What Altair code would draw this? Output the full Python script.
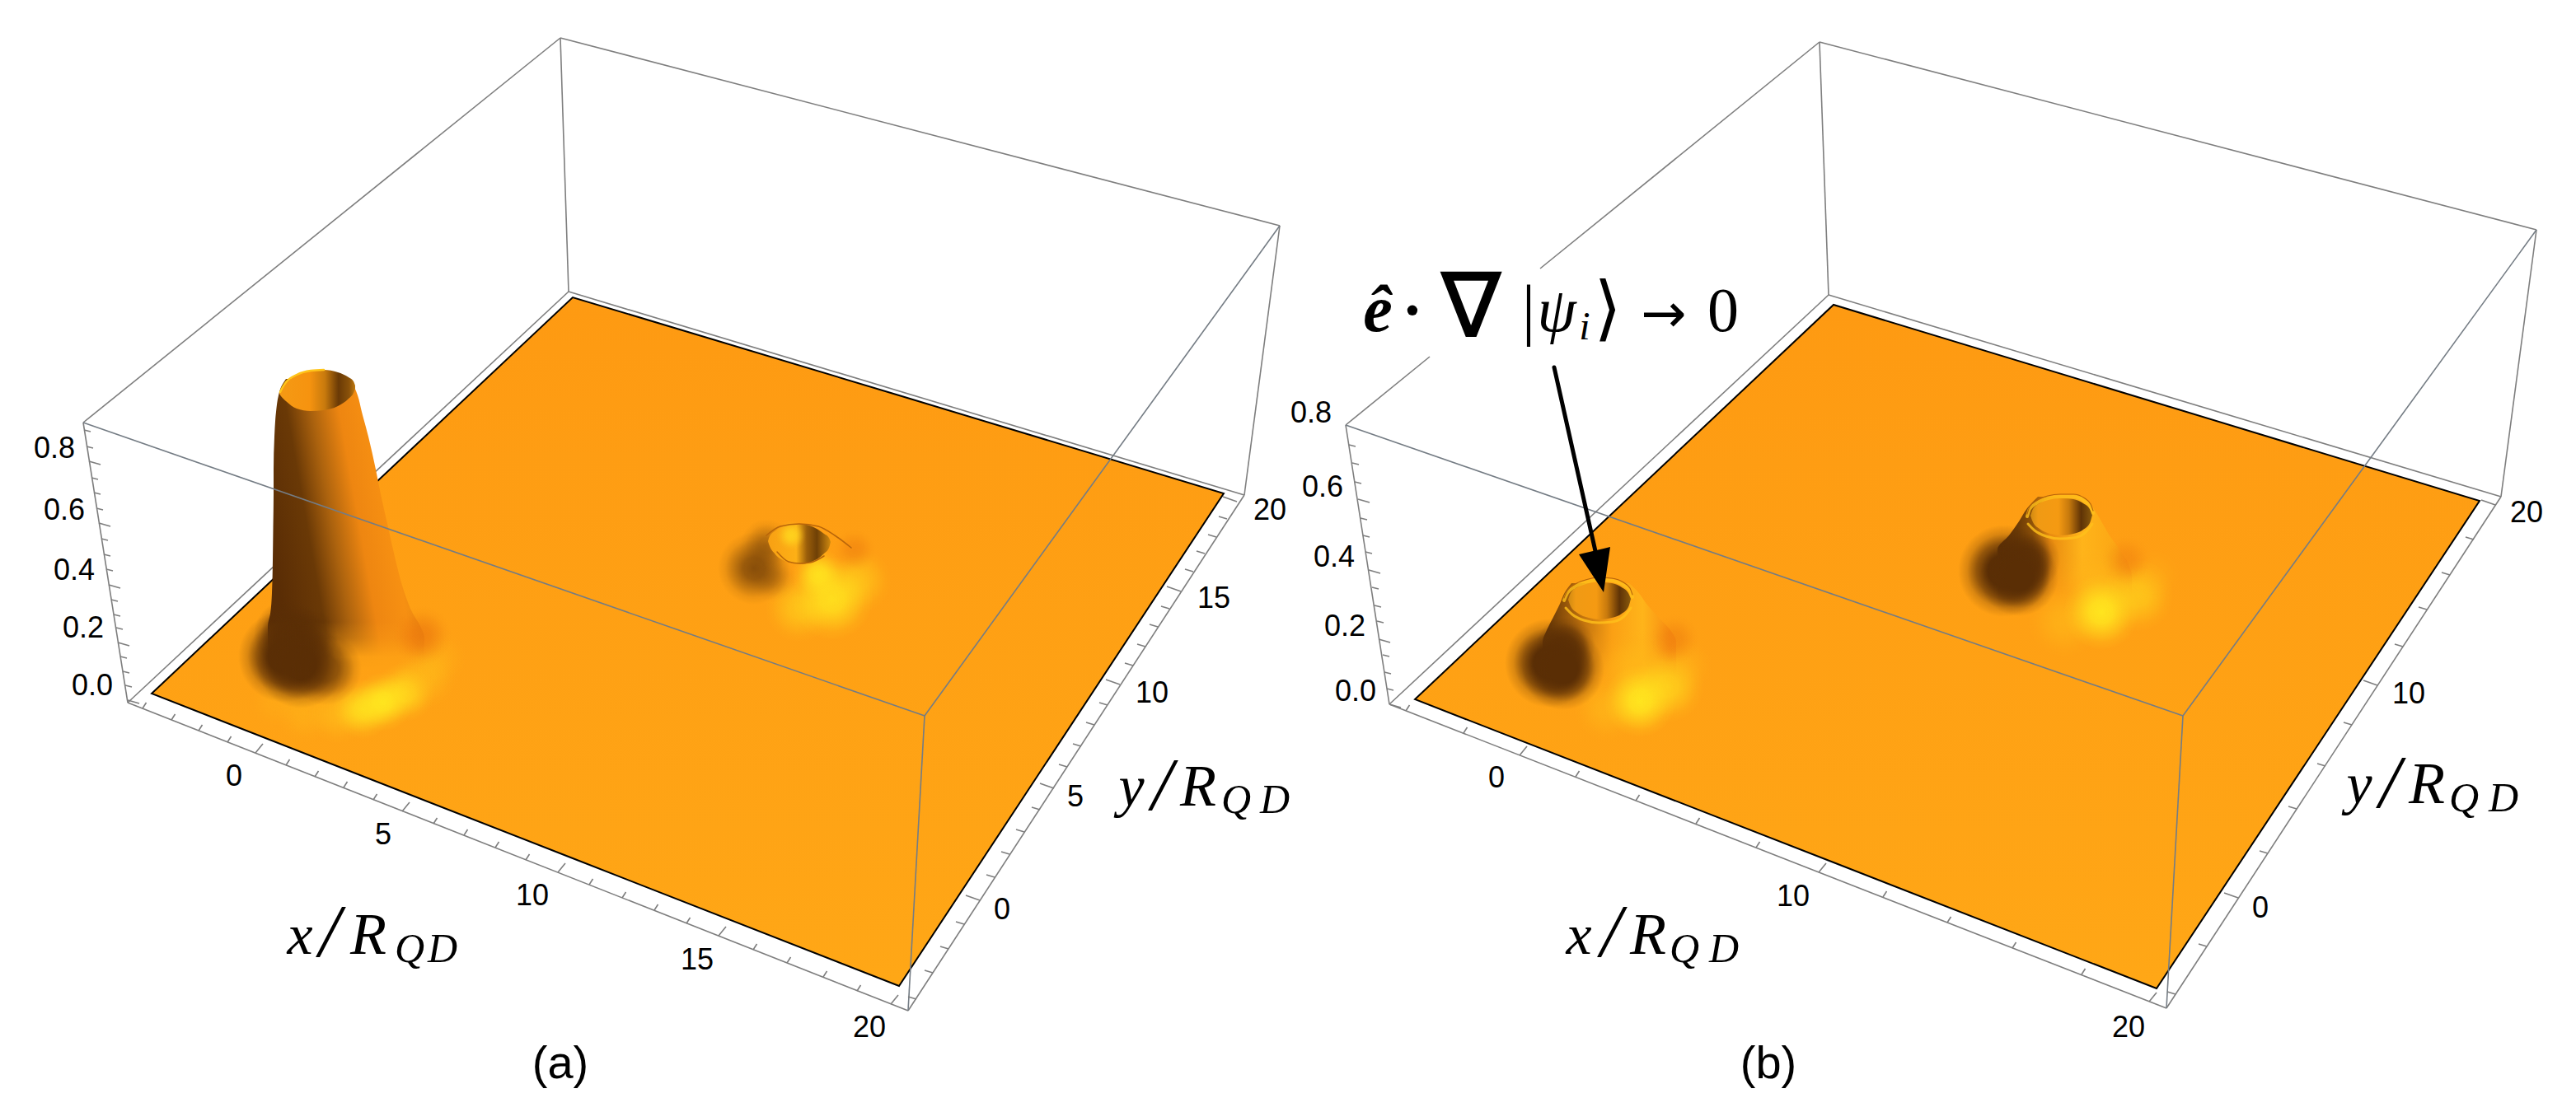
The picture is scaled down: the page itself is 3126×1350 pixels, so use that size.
import altair as alt
import pandas as pd

# panel corners: top-left, back, top-right, front (upper ring),
# then the same four on the floor of the box
box_a = dict(tl=(101, 513), bk=(680, 46), tr=(1553, 274), fr=(1122, 869),
             bl=(155, 853), bb=(690, 354), br=(1510, 601), fb=(1102, 1227))
box_b = dict(tl=(1633, 516), bk=(2208, 51), tr=(3078, 279), fr=(2649, 869),
             bl=(1686, 855), bb=(2219, 358), br=(3035, 603), fb=(2629, 1224))

# sheet outlines (x, upper edge, lower edge)
sheet_a_x = [184, 695, 1091, 1485]
sheet_a_top = [842, 361, 480, 599]
sheet_a_bot = [842, 1042, 1197, 599]
sheet_b_x = [1717, 2225, 2617, 3009]
sheet_b_top = [849, 370, 489, 608]
sheet_b_bot = [849, 1047, 1200, 608]

# tick feet along the box edges
a_xtick_x = [173, 208, 241, 276, 310, 347, 382, 417, 453, 488, 526, 563, 601, 638, 677,
             715, 755, 794, 833, 872, 914, 955, 999, 1040, 1081]
a_xtick_y = [860, 874, 887, 901, 914, 929, 943, 956, 971, 985, 1000, 1014, 1029, 1044, 1059,
             1074, 1090, 1105, 1121, 1136, 1153, 1169, 1186, 1203, 1219]
a_xtick_major = [0, 0, 0, 0, 1, 0, 0, 0, 0, 1, 0, 0, 0, 0, 1, 0, 0, 0, 0, 1, 0, 0, 0, 0, 1]
a_ytick_x = [1112, 1132, 1151, 1170, 1189, 1207, 1225, 1243, 1262, 1279, 1295, 1312, 1328,
             1344, 1359, 1375, 1390, 1405, 1419, 1433, 1448, 1462, 1476, 1489, 1501]
a_ytick_y = [1213, 1181, 1152, 1122, 1093, 1065, 1037, 1010, 983, 957, 931, 906, 880,
             856, 831, 808, 785, 761, 739, 718, 694, 672, 652, 630, 609]
a_ytick_major = a_xtick_major
a_ztick_x = [102, 105, 108, 111, 114, 117, 120, 123, 126, 129, 132, 135, 138, 141, 143, 146, 149, 152, 155]
a_ztick_y = [522, 542, 560, 580, 598, 617, 635, 654, 673, 691, 710, 728, 746, 762, 780, 797, 815, 832, 850]
a_ztick_major = [0, 0, 1, 0, 0, 0, 1, 0, 0, 0, 1, 0, 0, 0, 1, 0, 0, 0, 1]

b_xtick_x = [1706, 1776, 1844, 1912, 1985, 2058, 2131, 2207, 2285, 2363, 2442, 2526, 2608]
b_xtick_y = [863, 890, 917, 943, 972, 1000, 1029, 1059, 1089, 1120, 1151, 1183, 1216]
b_xtick_major = [0, 0, 1, 0, 0, 0, 0, 1, 0, 0, 0, 0, 1]
b_ytick_x = [2640, 2678, 2716, 2752, 2787, 2822, 2854, 2885, 2916, 2945, 2973, 3002, 3028]
b_ytick_y = [1207, 1149, 1090, 1036, 982, 930, 880, 832, 785, 740, 698, 655, 613]
b_ytick_major = b_xtick_major
b_ztick_x = [1637, 1641, 1644, 1648, 1651, 1654, 1657, 1661, 1665, 1668, 1671, 1673, 1678, 1680, 1683, 1686]
b_ztick_y = [540, 562, 585, 606, 629, 650, 670, 692, 713, 735, 754, 776, 795, 816, 836, 855]
b_ztick_major = [0, 0, 0, 1, 0, 0, 0, 1, 0, 0, 0, 1, 0, 0, 0, 1]

# tick labels
z_labels = ["0.8", "0.6", "0.4", "0.2", "0.0"]
a_zlab_x = [91, 103, 115, 126, 137]
a_zlab_y = [545, 620, 693, 763, 833]
b_zlab_x = [1616, 1630, 1644, 1657, 1670]
b_zlab_y = [502, 592, 677, 761, 840]
a_labels = ["0", "5", "10", "15", "20"]
a_xlab_x = [284, 465, 646, 846, 1055]
a_xlab_y = [943, 1014, 1088, 1166, 1248]
a_ylab_x = [1216, 1305, 1398, 1473, 1541]
a_ylab_y = [1105, 968, 842, 727, 620]
b_labels = ["0", "10", "20"]
b_xlab_x = [1816, 2176, 2583]
b_xlab_y = [945, 1089, 1248]
b_ylab_x = [2743, 2923, 3066]
b_ylab_y = [1103, 843, 623]

# big spike in panel a: rows of the silhouette
spike_y = [460, 470, 480, 500, 530, 570, 600, 640, 680, 720, 745, 760, 775, 790, 810]
spike_l = [347, 341, 338, 335, 333, 332, 332, 331.5, 331, 330, 328, 325, 325, 325, 325]
spike_r = [424, 430, 434, 439, 447, 456, 462, 471, 480, 491, 501, 510, 515, 515, 515]
# mouth of the spike
mouth_x = [339, 341, 347, 360, 377, 393, 410, 423, 429, 431]
mouth_top = [478, 472, 465, 455, 450, 449, 452, 458, 463, 468]
mouth_bot = [478, 481, 487, 496, 499, 498, 493, 484, 477, 472]
mouth_rim_x = [340, 343, 347, 360, 377, 393]
mouth_rim_y = [476, 470, 464, 455, 450, 449]

# small dimple in panel a
dimple_x = [932, 934, 940, 955, 970, 985, 1000, 1006, 1008]
dimple_top = [657, 651, 645, 638, 636, 639, 648, 653, 658]
dimple_bot = [657, 663, 672, 682, 685, 682, 672, 665, 658]
dimple_rim_x = [930, 947, 970, 993, 1013, 1033]
dimple_rim_y = [650, 639, 636, 639, 650, 665]
dimple_low_x = [943, 957, 970, 983, 1000]
dimple_low_y = [670, 682, 684, 683, 675]

# panel b bumps
bump1_y = [708, 719, 733, 751, 765, 779, 800, 820, 835]
bump1_l = [1907, 1899, 1893, 1884, 1877, 1872, 1872, 1872, 1872]
bump1_r = [1977, 1988, 1998, 2014, 2027, 2034, 2034, 2034, 2034]
bump1_hole_x = [1903, 1906, 1914, 1928, 1942, 1956, 1968, 1976, 1979]
bump1_hole_top = [728, 720, 713, 708, 707, 708, 713, 720, 727]
bump1_hole_bot = [728, 736, 744, 750, 752, 750, 745, 737, 727]
bump1_rim_x = [1898, 1902, 1910, 1924, 1940, 1956, 1970, 1978, 1981]
bump1_rim_y = [726, 717, 710, 704, 701, 702, 707, 714, 722]
bump1_low_x = [1900, 1908, 1922, 1940, 1956, 1970, 1979]
bump1_low_y = [738, 746, 753, 756, 755, 749, 738]

bump2_y = [603, 617, 633, 650, 667, 683, 700, 720, 735]
bump2_l = [2473, 2460, 2450, 2438, 2424, 2424, 2424, 2424, 2424]
bump2_r = [2527, 2540, 2550, 2560, 2572, 2582, 2587, 2587, 2587]
bump2_hole_x = [2464, 2467, 2475, 2488, 2502, 2516, 2528, 2536, 2539]
bump2_hole_top = [626, 618, 611, 606, 605, 606, 611, 618, 625]
bump2_hole_bot = [626, 634, 642, 648, 650, 648, 643, 635, 625]
bump2_rim_x = [2460, 2463, 2471, 2485, 2500, 2516, 2530, 2537, 2540]
bump2_rim_y = [624, 615, 608, 602, 600, 600, 605, 612, 620]
bump2_low_x = [2461, 2469, 2483, 2500, 2516, 2530, 2539]
bump2_low_y = [636, 644, 651, 654, 653, 647, 636]

# feet of the bodies melt into the sheet: x0, x1, y0, y1, local sheet colour
feet = [
    (315, 525, 755, 812, "#fea114"),
    (1860, 2045, 765, 840, "#fea114"),
    (2412, 2600, 670, 742, "#fe9f14"),
]

# soft shading spots: x, y, radius, colour, strength
DARK = "#5a2e05"
BROWN = "#6b3a07"
YEL = "#ffe81f"
AMB = "#ffc01a"
RED = "#e8700c"
spots_yellow = [
    (335, 852, 32, AMB, .2), (370, 866, 36, AMB, .35), (410, 867, 36, AMB, .6), (440, 861, 36, YEL, .8),
    (465, 852, 36, YEL, .95), (492, 840, 36, YEL, .7), (516, 822, 38, AMB, .55), (532, 800, 34, AMB, .3),
    (970, 738, 42, YEL, .45), (1010, 727, 50, YEL, .85), (1042, 705, 40, YEL, .4), (993, 697, 32, YEL, .85),
    (1985, 815, 50, AMB, .6), (1950, 860, 40, AMB, .5), (1990, 851, 44, YEL, .95), (2024, 833, 44, YEL, .6),
    (2046, 808, 32, AMB, .3),
    (2545, 712, 48, AMB, .5), (2505, 754, 44, AMB, .5), (2550, 743, 46, YEL, .95), (2594, 723, 44, YEL, .5),
    (2615, 698, 30, AMB, .2),
]
spots_red = [
    (512, 772, 36, RED, .6), (1037, 668, 26, RED, .4), (2032, 776, 30, RED, .4), (2580, 680, 30, RED, .35),
    (915, 690, 44, BROWN, .8), (930, 662, 32, BROWN, .5), (938, 702, 28, BROWN, .3),
]
spots_dark = [
    (350, 770, 42, DARK, .9), (372, 775, 38, DARK, .7),
    (345, 797, 56, DARK, 1), (365, 806, 54, DARK, 1), (395, 812, 44, DARK, .6),
    (1900, 785, 36, DARK, .8),
    (1880, 805, 54, DARK, 1), (1897, 812, 50, DARK, 1),
    (2460, 680, 40, DARK, .85),
    (2432, 693, 56, DARK, 1), (2450, 700, 48, DARK, 1),
]

X_SCALE = alt.Scale(domain=[8, 3118], nice=False, zero=False)
Y_SCALE = alt.Scale(domain=[1342, 8], nice=False, zero=False)
X = alt.X("x:Q", scale=X_SCALE, axis=None)
Y = alt.Y("y:Q", scale=Y_SCALE, axis=None)
GREY = "#7e7e7e"


def hex_rgba(col, a):
    return "rgba(%d,%d,%d,%.3f)" % (int(col[1:3], 16), int(col[3:5], 16), int(col[5:7], 16), a)


def spot(cx, cy, r, col, a, plateau=False):
    if plateau:
        prof = [(0, 1), (.35, 1), (.6, .65), (.8, .22), (1, 0)]
    else:
        prof = [(0, 1), (.3, .85), (.55, .5), (.8, .14), (1, 0)]
    grad = {"gradient": "radial", "x1": .5, "y1": .5, "x2": .5, "y2": .5, "r1": 0, "r2": .5,
            "stops": [{"offset": o, "color": hex_rgba(col, a * f)} for o, f in prof]}
    df = pd.DataFrame({"x": [cx - r], "x2": [cx + r], "y": [cy - r], "y2": [cy + r]})
    return alt.Chart(df).mark_rect(color=grad).encode(x=X, x2="x2:Q", y=Y, y2="y2:Q")


def hgrad(stops, x1=0, y1=0, x2=1, y2=0):
    return {"gradient": "linear", "x1": x1, "y1": y1, "x2": x2, "y2": y2,
            "stops": [{"offset": o, "color": c} for o, c in stops]}


def foot_mask(x0, x1, y0, y1, col):
    grad = hgrad([(0, hex_rgba(col, 0)), (.35, hex_rgba(col, .3)), (.75, hex_rgba(col, .95)), (1, hex_rgba(col, 1))],
                 x1=.5, y1=0, x2=.5, y2=1)
    df = pd.DataFrame({"x": [x0], "x2": [x1], "y": [y0], "y2": [y1]})
    return alt.Chart(df).mark_rect(color=grad).encode(x=X, x2="x2:Q", y=Y, y2="y2:Q")


def vert_area(xs, top, bot, fill, **kw):
    df = pd.DataFrame({"x": xs, "y": top, "y2": bot})
    return alt.Chart(df).mark_area(color=fill, **kw).encode(x=X, y=Y, y2="y2:Q")


def horiz_area(ys, left, right, fill):
    df = pd.DataFrame({"y": ys, "x": left, "x2": right})
    return alt.Chart(df).mark_area(color=fill, orient="horizontal", interpolate="monotone").encode(
        y=Y, x=X, x2="x2:Q")


def segments(pairs, color=GREY, width=1.6):
    df = pd.DataFrame([{"x": p[0][0], "y": p[0][1], "x2": p[1][0], "y2": p[1][1]} for p in pairs])
    return alt.Chart(df).mark_rule(color=color, strokeWidth=width).encode(x=X, x2="x2:Q", y=Y, y2="y2:Q")


def polyline(xs, ys, color, width, opacity=1):
    df = pd.DataFrame({"x": xs, "y": ys, "o": range(len(xs))})
    return alt.Chart(df).mark_line(color=color, strokeWidth=width, interpolate="monotone", opacity=opacity,
                                   strokeCap="round").encode(x=X, y=Y, order="o:Q")


def ticks(xs, ys, major, minor_d, major_d):
    pairs = []
    for x, y, m in zip(xs, ys, major):
        d = major_d if m else minor_d
        pairs.append(((x, y), (x + d[0], y + d[1])))
    return segments(pairs)


def labels(txt, xs, ys, align="center", size=36):
    df = pd.DataFrame({"x": xs, "y": ys, "t": txt})
    return alt.Chart(df).mark_text(font="Liberation Sans", fontSize=size, align=align, baseline="middle",
                                   color="black").encode(x=X, y=Y, text="t:N")


def math(t, x, y, size, font="Liberation Serif", style="italic", weight="normal", **kw):
    df = pd.DataFrame({"x": [x], "y": [y], "t": [t]})
    return alt.Chart(df).mark_text(font=font, fontSize=size, fontStyle=style, fontWeight=weight, align="center",
                                   baseline="alphabetic", color="black", **kw).encode(x=X, y=Y, text="t:N")


def behind(b, gap=None):
    pairs = [(b["bl"], b["bb"]), (b["bb"], b["br"]), (b["bk"], b["bb"]), (b["bk"], b["tr"]),
             (b["tr"], b["br"]), (b["bl"], b["fb"]), (b["fb"], b["br"]), (b["tl"], b["bl"])]
    if gap:
        pairs += [(b["tl"], gap[0]), (gap[1], b["bk"])]
    else:
        pairs += [(b["tl"], b["bk"])]
    return segments(pairs)


def front(b):
    return segments([(b["tl"], b["fr"]), (b["fr"], b["tr"]), (b["fr"], b["fb"])], color="#747c84")


def sheet(xs, top, bot):
    fill = hgrad([(0, "#fe9a12"), (1, "#ffa716")], x1=.5, y1=0, x2=.5, y2=1)
    return vert_area(xs, top, bot, fill, stroke="black", strokeWidth=2)


HOLE_STOPS = [(0, "#d08a12"), (.12, "#f09a14"), (.45, "#f59a12"), (.62, "#c87a0d"),
              (.82, "#5f3306"), (1, "#8a5a0c")]

layers = [behind(box_a), behind(box_b, gap=((1735, 433), (1869, 326))),
          sheet(sheet_a_x, sheet_a_top, sheet_a_bot), sheet(sheet_b_x, sheet_b_top, sheet_b_bot)]

# spike and bump bodies
layers.append(horiz_area(spike_y, spike_l, spike_r,
                         hgrad([(0, "#5a2d05"), (.28, "#6a3906"), (.46, "#ab620e"), (.66, "#ee8611"),
                                (.88, "#f79012"), (1, "#e98a10")], x1=0, y1=.5, x2=.8, y2=.24)))
layers.append(horiz_area(bump1_y, bump1_l, bump1_r,
                         hgrad([(0, "#5f3206"), (.05, "#6b3a06"), (.3, "#c0720e"), (.52, "#fba014"),
                                (.75, "#ffb41a"), (.95, "#f99012"), (1, "#f99012")])))
layers.append(horiz_area(bump2_y, bump2_l, bump2_r,
                         hgrad([(0, "#5a2e05"), (.15, "#6b3a06"), (.26, "#8f5208"), (.39, "#e98a10"),
                                (.63, "#ffb41a"), (.88, "#fca714"), (1, "#f99012")])))
for f in feet:
    layers.append(foot_mask(*f))

for s in spots_yellow + spots_red:
    layers.append(spot(*s))
for s in spots_dark:
    layers.append(spot(*s, plateau=True))

# mouths
layers.append(vert_area(mouth_x, mouth_top, mouth_bot,
                        hgrad([(0, "#f59a14"), (.4, "#f6930f"), (.6, "#c87a0d"), (.78, "#6a3a06"),
                               (.92, "#8a520a"), (1, "#c07a10")]), interpolate="monotone"))
layers.append(polyline(mouth_rim_x, mouth_rim_y, "#ffc51a", 2.5))

layers.append(vert_area(dimple_x, dimple_top, dimple_bot,
                        hgrad([(0, "#f8a013"), (.45, "#fdb016"), (.62, "#9a5e0a"), (.78, "#6f4006"),
                               (1, "#d08a10")]), interpolate="monotone"))
layers.append(spot(960, 650, 18, "#ffd51e", .9))
layers.append(polyline(dimple_rim_x, dimple_rim_y, "#b8650a", 1.5))
layers.append(polyline(dimple_low_x, dimple_low_y, "#b8650a", 1.5))

for hx, ht, hb, rx, ry, lx, ly in [
    (bump1_hole_x, bump1_hole_top, bump1_hole_bot, bump1_rim_x, bump1_rim_y, bump1_low_x, bump1_low_y),
    (bump2_hole_x, bump2_hole_top, bump2_hole_bot, bump2_rim_x, bump2_rim_y, bump2_low_x, bump2_low_y),
]:
    layers.append(vert_area(hx, ht, hb, hgrad(HOLE_STOPS), interpolate="monotone"))
    layers.append(polyline(rx, [v + 3 for v in ry], "#ffc01a", 4, opacity=.8))
    layers.append(polyline(lx, ly, "#ffc01a", 3, opacity=.8))
    layers.append(polyline(rx, ry, "#b8650a", 1.2))

layers += [front(box_a), front(box_b)]

# ticks and their labels
layers += [
    ticks(a_xtick_x, a_xtick_y, a_xtick_major, (4.5, -7), (9, -11)),
    ticks(a_ytick_x, a_ytick_y, a_ytick_major, (-10, -3), (-17, -6)),
    ticks(a_ztick_x, a_ztick_y, a_ztick_major, (8, 2), (14, 4)),
    ticks(b_xtick_x, b_xtick_y, b_xtick_major, (4.5, -7), (9, -11)),
    ticks(b_ytick_x, b_ytick_y, b_ytick_major, (-10, -3), (-17, -6)),
    ticks(b_ztick_x, b_ztick_y, b_ztick_major, (8, 2), (14, 4)),
    labels(z_labels, a_zlab_x, a_zlab_y, align="right"),
    labels(z_labels, b_zlab_x, b_zlab_y, align="right"),
    labels(a_labels, a_xlab_x, a_xlab_y),
    labels(a_labels, a_ylab_x, a_ylab_y),
    labels(b_labels, b_xlab_x, b_xlab_y),
    labels(b_labels, b_ylab_x, b_ylab_y),
    labels(["(a)"], [680], [1292], size=56),
    labels(["(b)"], [2146], [1292], size=56),
]

# axis titles, piece by piece like the typeset originals
for tx, sx, rx, qx, dx, sub, base, t, slash_y in [
    (364, 400, 447, 497, 537, 1168, 1158, "x", 1158),
    (1916, 1955, 2000, 2044, 2092, 1168, 1158, "x", 1158),
    (1373, 1410, 1454, 1500, 1547, 987, 978, "y", 980),
    (2863, 2900, 2945, 2990, 3038, 985, 975, "y", 977),
]:
    layers += [math(t, tx, base, 70), math("/", sx, slash_y + 3, 92), math("R", rx, base, 72),
               math("Q", qx, sub, 50), math("D", dx, sub, 50)]

# annotation over the bump in panel b
layers += [
    math("ê", 1672, 402, 80, weight="bold"),
    math("·", 1714, 402, 76, style="normal", weight="bold"),
    math("∇", 1785, 408, 108, font="DejaVu Sans", style="normal", stroke="black", strokeWidth=1.5),
    math("|", 1855, 403, 82, style="normal"),
    math("ψ", 1889, 402, 76),
    math("i", 1923, 412, 48),
    math("⟩", 1951, 403, 86, font="DejaVu Sans", style="normal"),
    math("→", 2019, 403, 66, font="DejaVu Sans", style="normal"),
    math("0", 2091, 402, 76, style="normal"),
    polyline([1886, 1936], [446, 669], "black", 5),
    vert_area([1916, 1946, 1954], [673, 666, 664], [673, 719, 664], "black"),
]

chart = alt.layer(*layers).properties(
    width=3110, height=1334, padding=0, background="white",
    autosize=alt.AutoSizeParams(type="none"),
).configure_view(stroke=None)

chart.save("out.html", embed_options={"renderer": "svg", "actions": False})
